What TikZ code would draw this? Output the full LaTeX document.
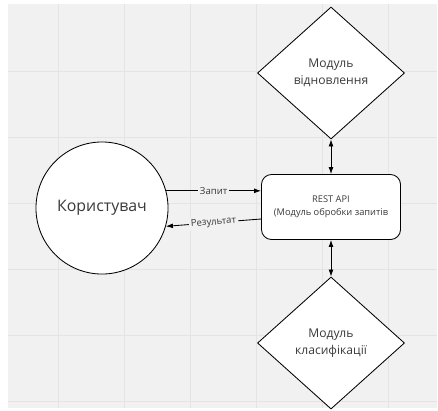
\documentclass[tikz,border=0pt]{standalone}
\usepackage{fontspec}
\setmainfont{Open Sans}
\usetikzlibrary{shapes}
\usetikzlibrary{shapes.geometric}
\usetikzlibrary{positioning}
\usetikzlibrary{arrows.meta}
\definecolor{bggray}{HTML}{F1F1F1}
\definecolor{gridgray}{HTML}{E4E4E4}
\definecolor{txtgray}{HTML}{3A3A3A}
\tikzset{
    mynodeu/.style = {circle, semithick, draw=black, align=center,fill=white,minimum size=3.3cm,inner sep=0pt,font=\fontsize{11.3}{13}\selectfont,text=txtgray},
    mynodea/.style = {rectangle, rounded corners=0.25cm, semithick, draw=black, align=center,fill=white,minimum width=3.475cm,minimum height=1.625cm,inner sep=0pt,font=\fontsize{6.6}{9.5}\selectfont,text=txtgray},
    mynoded/.style = {diamond, semithick, draw=black, align=center,fill=white,minimum width=3.675cm,minimum height=3.3cm,inner sep=0pt,font=\fontsize{8.6}{12}\selectfont,text=txtgray},
    edgel/.style = {semithick,black,-{Latex[length=5pt,width=3.5pt]}},
    edgeb/.style = {semithick,black,{Latex[length=5pt,width=3.5pt]}-{Latex[length=5pt,width=3.5pt]}},
    lbl/.style = {fill=bggray,inner sep=1.5pt,font=\fontsize{6.8}{8}\selectfont,text=txtgray}
}

\begin{document}
\begin{tikzpicture}[x=0.025cm,y=-0.025cm]
  \useasboundingbox (0,0) rectangle (438,410);
  % background grid
  \fill[white] (0,0) rectangle (438,410);
  \fill[bggray] (8,4) rectangle (437,408);
  \foreach \gx in {58,124,190,256,322,388}
    \draw[gridgray,line width=0.5pt] (\gx,4) -- (\gx,408);
  \foreach \gy in {71,137,203,269,335,401}
    \draw[gridgray,line width=0.5pt] (8,\gy) -- (437,\gy);

  \node[mynodeu] (user) at (102,208) {Користувач};
  \node[mynodea] (api) at (331,207) {REST API\\(Модуль обробки запитів};
  \node[mynoded] (vidn) at (331,73) {Модуль\\відновлення};
  \node[mynoded] (klas) at (331,343) {Модуль\\класифікації};

  \draw[edgel] (user.15) -- node[lbl] {Запит} (user.15 -| api.west);
  \draw[edgel] ([yshift=-0.3cm]api.west) -- node[lbl,sloped] {Результат} (user.-16);
  \draw[edgeb] (vidn.south) -- (api.north);
  \draw[edgeb] (api.south) -- (klas.north);
\end{tikzpicture}
\end{document}
